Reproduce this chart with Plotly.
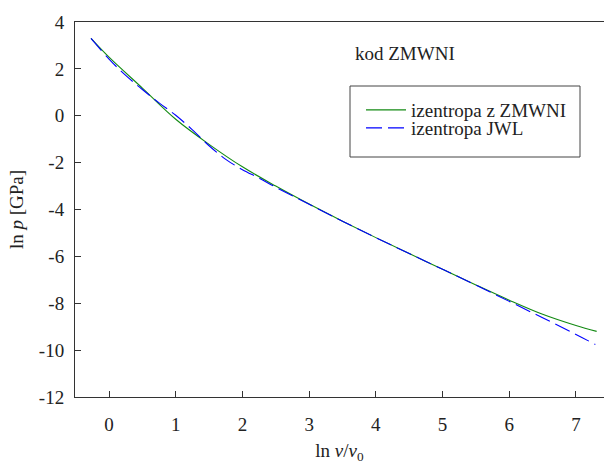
import plotly.graph_objects as go

# ZMWNI isentrope
x_zmwni = [-0.27, 0.0, 0.5, 1.0, 1.5, 2.0, 2.5, 3.0, 3.5, 4.0, 4.5, 5.0, 5.5, 6.0, 6.5, 7.0, 7.31]
y_zmwni = [3.30, 2.50, 1.18, -0.15, -1.22, -2.18, -3.00, -3.77, -4.50, -5.20, -5.88, -6.55, -7.22, -7.87, -8.47, -8.95, -9.20]

# JWL isentrope
x_jwl = [-0.27, 0.0, 0.25, 0.5, 0.75, 1.0, 1.25, 1.5, 1.75, 2.0, 2.25, 2.5, 3.0, 3.5, 4.0, 4.5, 5.0, 5.5, 6.0, 6.5, 7.0, 7.29]
y_jwl = [3.30, 2.42, 1.72, 1.12, 0.55, 0.02, -0.60, -1.28, -1.86, -2.30, -2.66, -3.05, -3.78, -4.50, -5.20, -5.88, -6.55, -7.23, -7.92, -8.62, -9.33, -9.76]

x_ticks = [0, 1, 2, 3, 4, 5, 6, 7]
y_ticks = [4, 2, 0, -2, -4, -6, -8, -10, -12]
y_ticktext = ["4", "2", "0", "-2", "-4", "-6", "-8", "-10", "-12"]

FONT = "Liberation Serif, Times New Roman, DejaVu Serif, serif"
TXT = "#222222"

fig = go.Figure()
fig.add_trace(go.Scatter(x=x_zmwni, y=y_zmwni, mode="lines", name="izentropa z ZMWNI", showlegend=True,
                         line=dict(color="#138a13", width=1.1, shape="spline"), legend="legend"))
fig.add_trace(go.Scatter(x=x_jwl, y=y_jwl, mode="lines", name="izentropa JWL", showlegend=True,
                         line=dict(color="#0000ff", width=1.1, dash="16px,6px", shape="spline"), legend="legend2"))

axis_common = dict(showgrid=False, zeroline=False, showline=True, linecolor="#333333", linewidth=1,
                   ticks="inside", ticklen=6, tickcolor="#333333", automargin=False,
                   tickfont=dict(family=FONT, size=19, color=TXT))

fig.update_xaxes(range=[-0.51, 7.42], tickvals=x_ticks, mirror=True, ticklabelstandoff=10,
                 title=dict(text="ln <i>v</i>/<i>v</i><sub>0</sub>", font=dict(family=FONT, size=19, color=TXT), standoff=19),
                 **axis_common)
fig.update_yaxes(range=[-12, 4], tickvals=y_ticks, ticktext=y_ticktext, ticklabelstandoff=6,
                 title=dict(text="ln <i>p</i> [GPa]", font=dict(family=FONT, size=19, color=TXT), standoff=10),
                 **axis_common)

fig.add_annotation(text="kod ZMWNI", x=0.5255, y=0.917, xref="paper", yref="paper",
                   xanchor="left", yanchor="middle", showarrow=False,
                   font=dict(family=FONT, size=19, color=TXT))

# legend frame
fig.add_shape(type="rect", xref="paper", yref="paper",
              x0=(350 - 75) / 529, x1=(580 - 75) / 529,
              y0=(397 - 157) / 375, y1=(397 - 86) / 375,
              line=dict(color="#444444", width=1), fillcolor="rgba(0,0,0,0)")

leg_common = dict(xanchor="left", yanchor="middle", borderwidth=0, bgcolor="rgba(0,0,0,0)",
                  itemwidth=40, font=dict(family=FONT, size=19, color=TXT))

fig.update_layout(
    width=604, height=464,
    margin=dict(l=75, r=0, t=22, b=67, autoexpand=False),
    plot_bgcolor="white", paper_bgcolor="white",
    font=dict(family=FONT, size=19, color=TXT),
    legend=dict(x=(361 - 75) / 529, y=(397 - 110) / 375, **leg_common),
    legend2=dict(x=(361 - 75) / 529, y=(397 - 128) / 375, **leg_common),
)

fig.write_html("out.html", config={"displayModeBar": False},
               post_script="document.body.style.margin='0';document.documentElement.style.overflow='hidden';")
